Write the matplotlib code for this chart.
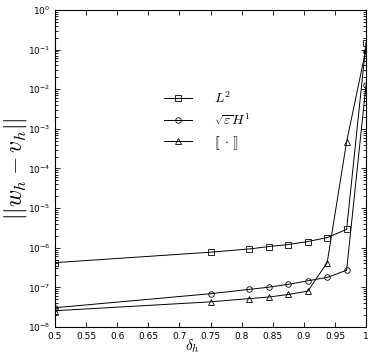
import matplotlib
matplotlib.use("Agg")
import matplotlib.pyplot as plt
from matplotlib.ticker import FixedLocator, FuncFormatter, LogLocator, NullFormatter

delta_h = [0.5, 0.75, 0.8125, 0.84375, 0.875, 0.90625, 0.9375, 0.96875, 1.0]
err_L2 = [4.2e-7, 7.7e-7, 9.3e-7, 1.07e-6, 1.2e-6, 1.43e-6, 1.8e-6, 2.9e-6, 0.15]
err_H1 = [3.06e-8, 6.9e-8, 8.9e-8, 1.01e-7, 1.19e-7, 1.46e-7, 1.78e-7, 2.7e-7, 1.3e-2]
err_jump = [2.57e-8, 4.3e-8, 5.2e-8, 5.7e-8, 6.6e-8, 8.0e-8, 4.2e-7, 4.7e-4, 0.105]
labels = [r'$L^2$', r'$\sqrt{\varepsilon}H^1$', r'$[\![\,\cdot\,]\!]$']
xticks = [0.5, 0.55, 0.6, 0.65, 0.7, 0.75, 0.8, 0.85, 0.9, 0.95, 1.0]

fig = plt.figure(figsize=(3.72, 3.55), dpi=100)
ax = fig.add_axes([0.148, 0.079, 0.836, 0.893])

lw = 0.7
ax.semilogy(delta_h, err_L2, '-s', color='black', lw=lw, ms=4, mfc='none', mew=0.6, label=labels[0])
ax.semilogy(delta_h, err_H1, '-o', color='black', lw=lw, ms=4, mfc='none', mew=0.6, label=labels[1])
ax.semilogy(delta_h, err_jump, '-^', color='black', lw=lw, ms=4, mfc='none', mew=0.6, label=labels[2])

ax.set_xlim(0.5, 1.0)
ax.set_ylim(1e-8, 1e0)
ax.xaxis.set_major_locator(FixedLocator(xticks))
ax.xaxis.set_major_formatter(FuncFormatter(lambda v, p: '%g' % v))
ax.yaxis.set_major_locator(LogLocator(base=10, numticks=20))
ax.yaxis.set_minor_locator(LogLocator(base=10, subs=range(2, 10), numticks=20))
ax.yaxis.set_minor_formatter(NullFormatter())
ax.tick_params(which='both', direction='in', top=True, right=True, labelsize=6.5, width=0.6)
ax.tick_params(which='major', length=3.5)
ax.tick_params(which='minor', length=2)
for s in ax.spines.values():
    s.set_linewidth(0.8)

ax.set_xlabel(r'$\delta_h$', fontsize=11, math_fontfamily='cm')
ax.xaxis.set_label_coords(0.44, -0.034)
ax.set_ylabel(r'$||w_h - v_h||$', fontsize=17, math_fontfamily='cm')
ax.yaxis.set_label_coords(-0.085, 0.5)

leg = ax.legend(loc='upper left', bbox_to_anchor=(0.31, 0.785), frameon=False,
                fontsize=10, handlelength=2.0, handletextpad=1.6, labelspacing=0.45)
for t in leg.get_texts():
    t.set_math_fontfamily('cm')

fig.savefig('out.png', dpi=100)
